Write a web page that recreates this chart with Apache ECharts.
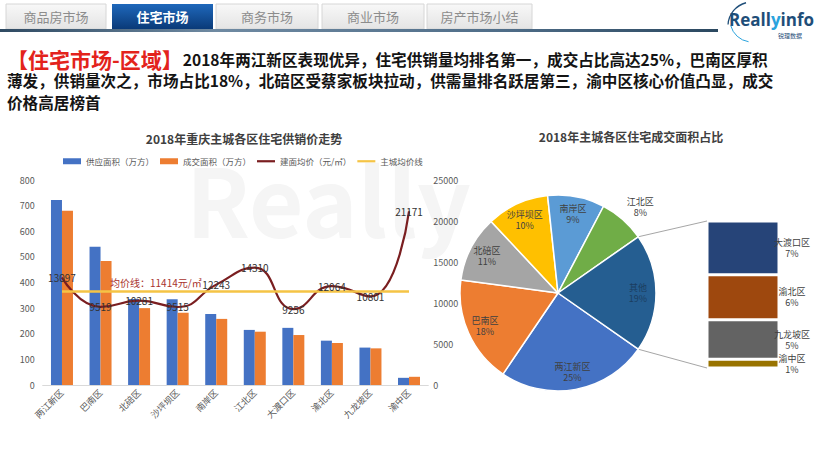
<!DOCTYPE html>
<html><head><meta charset="utf-8">
<script src="https://cdn.jsdelivr.net/npm/echarts@6/dist/echarts.min.js"></script>
<style>html,body{margin:0;padding:0;background:#fff}#c{width:814px;height:456px}</style>
</head><body><div id="c"></div>
<script>
// ---------- data ----------
const categories = ['两江新区','巴南区','北碚区','沙坪坝区','南岸区','江北区','大渡口区','渝北区','九龙坡区','渝中区'];
const supplyArea = [722, 540, 336, 335, 277, 215, 223, 173, 146, 28];
const salesArea  = [680, 484, 300, 282, 258, 208, 195, 164, 143, 32];
const avgPrice   = [13097, 9519, 10281, 9515, 12243, 14310, 9256, 12064, 10801, 21171];
const cityAvgPrice = 11414;
const cityAvgLine = categories.map(() => cityAvgPrice);
const legendNames = ['供应面积（万方）','成交面积（万方）','建面均价（元/㎡）','主城均价线'];
const pieMainNames  = ['两江新区','巴南区','北碚区','沙坪坝区','南岸区','江北区'];
const pieMainValues = [680, 484, 300, 282, 258, 208];
const pieOtherName  = '其他';
const pieSubNames   = ['大渡口区','渝北区','九龙坡区','渝中区'];
const pieSubValues  = [195, 164, 143, 32];
const tabs = ['商品房市场','住宅市场','商务市场','商业市场','房产市场小结'];
const activeTab = 1;
const headline1 = '2018年两江新区表现优异，住宅供销量均排名第一，成交占比高达25%，巴南区厚积';
const headline2 = '薄发，供销量次之，市场占比18%，北碚区受蔡家板块拉动，供需量排名跃居第三，渝中区核心价值凸显，成交';
const headline3 = '价格高居榜首';

// ---------- layout / style ----------
const FONT = '"Noto Sans CJK SC","Noto Sans",sans-serif';
const AX = '#595959';
const pieColors = ['#4472C4','#ED7D31','#A5A5A5','#FFC000','#5B9BD5','#70AD47','#255E91'];
const subColors = ['#264478','#9E480E','#636363','#997300'];
const PIE = {cx: 558, cy: 293, r: 98};
const SUB = {left: 707, top: 221, width: 72, height: 147};

const total = pieMainValues.concat(pieSubValues).reduce((a,b)=>a+b,0);
const otherValue = pieSubValues.reduce((a,b)=>a+b,0);
const pieNames = pieMainNames.concat([pieOtherName]);
const pieValues = pieMainValues.concat([otherValue]);
const otherDeg = otherValue / total * 360;
const pieStart = -otherDeg / 2;
const pct = v => Math.round(v / total * 100) + '%';

const chart = echarts.init(document.getElementById('c'), null, {renderer: 'svg', width: 814, height: 456});

const a = otherDeg / 2 * Math.PI / 180;
const pTop = [PIE.cx + PIE.r * Math.cos(a), PIE.cy - PIE.r * Math.sin(a)];
const pBot = [PIE.cx + PIE.r * Math.cos(a), PIE.cy + PIE.r * Math.sin(a)];

const tabX = [[6,106],[112,213],[216,318],[322,424],[427,532]];
const graphics = [];
graphics.push({type:'text', left: 186, top: 150, z: 0, silent: true,
  style: {text: 'Really', fill: '#f5f5f5', font: 'bold 94px ' + FONT}});
tabs.forEach((t, i) => {
  const [x0, x1] = tabX[i];
  const act = i === activeTab;
  graphics.push({type: 'rect', shape: {x: x0, y: 4, width: x1 - x0, height: 25}, z: 1,
    style: {fill: act ? new echarts.graphic.LinearGradient(0,0,0,1,[{offset:0,color:'#1f68bb'},{offset:1,color:'#0a3a78'}])
                      : new echarts.graphic.LinearGradient(0,0,0,1,[{offset:0,color:'#f8f8f8'},{offset:1,color:'#e4e4e4'}]),
            stroke: act ? null : '#d6d6d6', lineWidth: 1}});
  graphics.push({type: 'text', x: (x0 + x1) / 2, y: 16.5, z: 2,
    style: {text: t, fill: act ? '#ffffff' : '#8c8c8c', font: (act ? 'bold ' : '') + '13px ' + FONT,
            align: 'center', verticalAlign: 'middle'}});
});
graphics.push({type: 'rect', shape: {x: 0, y: 29, width: 718, height: 3}, z: 1,
  style: {fill: new echarts.graphic.LinearGradient(0,0,1,0,[{offset:0,color:'#2f4a62'},{offset:0.3,color:'#6f8aa2'},{offset:0.7,color:'#4f6d88'},{offset:1,color:'#2b4860'}])}});
graphics.push({type: 'text', x: 729, y: 19, z: 2,
  style: {text: '{a|Reall}{b|y}{a|info}', verticalAlign: 'middle',
    rich: {a: {fill: '#1f4e79', font: 'bold 17px "Open Sans",' + FONT}, b: {fill: '#2aa3dd', font: 'bold 17px "Open Sans",' + FONT}}}});
graphics.push({type: 'arc', z: 2, shape: {cx: 752, cy: 26, r: 24, startAngle: Math.PI * 1.02, endAngle: Math.PI * 1.42},
  style: {stroke: '#1f4e79', lineWidth: 1.3, fill: null}});
graphics.push({type: 'arc', z: 2, shape: {cx: 752, cy: 20, r: 22, startAngle: Math.PI * 0.55, endAngle: Math.PI * 0.92},
  style: {stroke: '#2aa3dd', lineWidth: 1, fill: null}});
graphics.push({type: 'text', x: 778, y: 35, z: 2,
  style: {text: '锐理数据', fill: '#1f4e79', font: '6px ' + FONT, verticalAlign: 'middle'}});
graphics.push({type: 'text', x: 7, y: 48, z: 2,
  style: {text: '{r|【住宅市场-区域】}{b|' + headline1 + '}\n{b|' + headline2 + '}\n{b|' + headline3 + '}',
    rich: {r: {fill: '#e3231c', font: 'bold 21px ' + FONT, lineHeight: 21.5},
           b: {fill: '#141414', font: 'bold 15.6px ' + FONT, lineHeight: 21.5}}}});
graphics.push({type: 'text', x: 110, y: 282, z: 5,
  style: {text: '均价线：' + cityAvgPrice + '元/㎡', fill: '#a8322d', font: '10px ' + FONT, verticalAlign: 'middle'}});
graphics.push({type: 'line', z: 1, shape: {x1: pTop[0], y1: pTop[1], x2: SUB.left, y2: SUB.top}, style: {stroke: '#a6a6a6', lineWidth: 1}});
graphics.push({type: 'line', z: 1, shape: {x1: pBot[0], y1: pBot[1], x2: SUB.left, y2: SUB.top + SUB.height}, style: {stroke: '#a6a6a6', lineWidth: 1}});

const lblStyle = {color: '#404040', fontSize: 9, lineHeight: 11, fontFamily: FONT};

const series = [
  {name: legendNames[0], type: 'bar', xAxisIndex: 0, yAxisIndex: 0, data: supplyArea, barWidth: 11, barGap: '0%',
   itemStyle: {color: '#4472C4'}},
  {name: legendNames[1], type: 'bar', xAxisIndex: 0, yAxisIndex: 0, data: salesArea, barWidth: 11, barGap: '0%',
   itemStyle: {color: '#ED7D31'}},
  {name: legendNames[2], type: 'line', xAxisIndex: 0, yAxisIndex: 1, data: avgPrice, smooth: true,
   symbol: 'circle', symbolSize: 1, showSymbol: true, itemStyle: {color: '#7a1e20'},
   lineStyle: {color: '#7a1e20', width: 2.2},
   label: {show: true, position: 'inside', color: '#333', fontSize: 10, fontFamily: FONT}, z: 3},
  {name: legendNames[3], type: 'line', xAxisIndex: 0, yAxisIndex: 1, data: cityAvgLine,
   symbol: 'none', itemStyle: {color: '#f5c445'}, lineStyle: {color: '#f5c445', width: 2.5}, z: 3},
  {type: 'pie', center: [PIE.cx, PIE.cy], radius: [0, PIE.r], startAngle: pieStart, clockwise: true,
   data: pieNames.map((n, i) => ({name: n, value: pieValues[i], itemStyle: {color: pieColors[i]}})),
   itemStyle: {borderColor: '#fff', borderWidth: 1.5}, label: {show: false}, labelLine: {show: false}, silent: true},
  {type: 'pie', center: [PIE.cx, PIE.cy], radius: [56, PIE.r], startAngle: pieStart, clockwise: true, silent: true,
   data: pieNames.map((n, i) => {
     const d = {name: n, value: pieValues[i], itemStyle: {color: 'rgba(0,0,0,0)'}};
     if (n === '江北区') d.label = {position: 'outside', distanceToLabelLine: -6,
        formatter: p => '{t|' + p.name + '}\n{t|' + pct(p.value) + '}', rich: {t: {width: 26, align: 'center', color: '#404040', fontSize: 9, lineHeight: 11, fontFamily: FONT}}};
     if (n === pieOtherName) d.label = {color: '#1b3d5f'};
     return d;
   }),
   label: Object.assign({show: true, position: 'inside', formatter: p => p.name + '\n' + pct(p.value)}, lblStyle),
   labelLine: {show: false, length: 16, length2: 0}},
];
for (let i = pieSubNames.length - 1; i >= 0; i--) {
  series.push({name: pieSubNames[i], type: 'bar', xAxisIndex: 1, yAxisIndex: 2, stack: 'sub', barWidth: '100%',
    data: [pieSubValues[i]], itemStyle: {color: subColors[i], borderColor: '#fff', borderWidth: 1.5},
    label: Object.assign({show: true, position: ['118%', '50%'], align: 'center', verticalAlign: 'middle',
      formatter: p => p.seriesName + '\n' + pct(p.value)}, lblStyle)});
}

chart.setOption({
  backgroundColor: '#fff',
  animation: false,
  textStyle: {fontFamily: FONT},
  title: [
    {text: '2018年重庆主城各区住宅供销价走势', left: 239, top: 127, textAlign: 'center',
     textStyle: {fontSize: 12, fontWeight: 'bold', color: '#404040', fontFamily: FONT}},
    {text: '2018年主城各区住宅成交面积占比', left: 626, top: 125, textAlign: 'center',
     textStyle: {fontSize: 12, fontWeight: 'bold', color: '#404040', fontFamily: FONT}}
  ],
  legend: {left: 58, top: 152, itemGap: 6, itemWidth: 18, itemHeight: 6,
    textStyle: {fontSize: 8.5, color: AX, fontFamily: FONT},
    data: [
      {name: legendNames[0], icon: 'rect'},
      {name: legendNames[1], icon: 'rect'},
      {name: legendNames[2], icon: 'path://M0,0H18V2.2H0Z'},
      {name: legendNames[3], icon: 'path://M0,0H18V2.2H0Z'}
    ]},
  grid: [
    {left: 42.7, top: 180, width: 385.6, height: 205},
    {left: SUB.left, top: SUB.top, width: SUB.width, height: SUB.height}
  ],
  xAxis: [
    {type: 'category', gridIndex: 0, data: categories,
     axisLine: {lineStyle: {color: '#d9d9d9'}}, axisTick: {show: false},
     axisLabel: {rotate: 45, interval: 0, fontSize: 9, color: AX, margin: 6}},
    {type: 'category', gridIndex: 1, data: [''], show: false}
  ],
  yAxis: [
    {type: 'value', gridIndex: 0, min: 0, max: 800, interval: 100, splitLine: {show: false},
     axisLine: {show: false}, axisTick: {show: false}, axisLabel: {fontSize: 9, color: AX, margin: 8}},
    {type: 'value', gridIndex: 0, min: 0, max: 25000, interval: 5000, position: 'right', splitLine: {show: false},
     axisLine: {show: false}, axisTick: {show: false}, axisLabel: {fontSize: 9, color: AX, margin: 5, formatter: v => String(v)}},
    {type: 'value', gridIndex: 1, min: 0, max: otherValue, show: false}
  ],
  graphic: graphics,
  series: series
});
</script>
</body></html>
